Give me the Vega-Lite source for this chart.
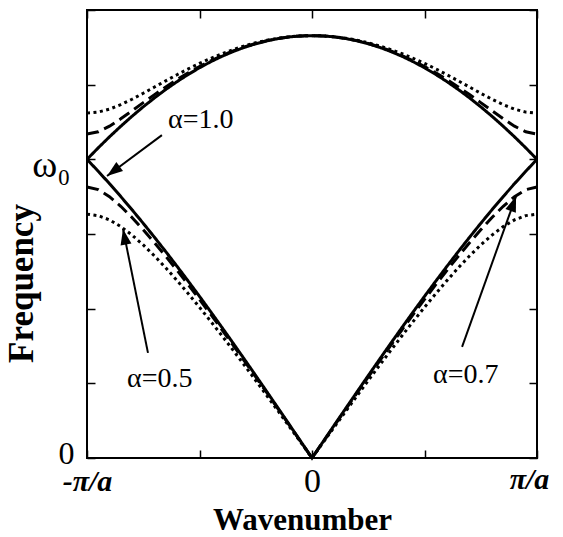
{
  "$schema": "https://vega.github.io/schema/vega-lite/v6.json",
  "width": 450,
  "height": 448,
  "autosize": "none",
  "padding": {"left": 87, "top": 10, "right": 26, "bottom": 79},
  "background": "white",
  "config": {
    "view": {"stroke": "black", "strokeWidth": 2},
    "axis": {"grid": false, "domain": false, "tickColor": "black", "tickWidth": 1.5, "labelColor": "black", "titleColor": "black"}
  },
  "datasets": {
    "bands": [
      {"k": -1.00, "a": "1.0", "lo": 1.0000, "up": 1.0000},
      {"k": -0.95, "a": "1.0", "lo": 0.9600, "up": 1.0385},
      {"k": -0.90, "a": "1.0", "lo": 0.9185, "up": 1.0754},
      {"k": -0.85, "a": "1.0", "lo": 0.8755, "up": 1.1106},
      {"k": -0.80, "a": "1.0", "lo": 0.8313, "up": 1.1441},
      {"k": -0.75, "a": "1.0", "lo": 0.7857, "up": 1.1759},
      {"k": -0.70, "a": "1.0", "lo": 0.7389, "up": 1.2058},
      {"k": -0.65, "a": "1.0", "lo": 0.6910, "up": 1.2339},
      {"k": -0.60, "a": "1.0", "lo": 0.6420, "up": 1.2601},
      {"k": -0.55, "a": "1.0", "lo": 0.5921, "up": 1.2843},
      {"k": -0.50, "a": "1.0", "lo": 0.5412, "up": 1.3066},
      {"k": -0.45, "a": "1.0", "lo": 0.4895, "up": 1.3268},
      {"k": -0.40, "a": "1.0", "lo": 0.4370, "up": 1.3450},
      {"k": -0.35, "a": "1.0", "lo": 0.3839, "up": 1.3611},
      {"k": -0.30, "a": "1.0", "lo": 0.3301, "up": 1.3751},
      {"k": -0.25, "a": "1.0", "lo": 0.2759, "up": 1.3870},
      {"k": -0.20, "a": "1.0", "lo": 0.2212, "up": 1.3968},
      {"k": -0.15, "a": "1.0", "lo": 0.1662, "up": 1.4044},
      {"k": -0.10, "a": "1.0", "lo": 0.1110, "up": 1.4099},
      {"k": -0.05, "a": "1.0", "lo": 0.0555, "up": 1.4131},
      {"k": 0.00, "a": "1.0", "lo": 0.0000, "up": 1.4142},
      {"k": 0.05, "a": "1.0", "lo": 0.0555, "up": 1.4131},
      {"k": 0.10, "a": "1.0", "lo": 0.1110, "up": 1.4099},
      {"k": 0.15, "a": "1.0", "lo": 0.1662, "up": 1.4044},
      {"k": 0.20, "a": "1.0", "lo": 0.2212, "up": 1.3968},
      {"k": 0.25, "a": "1.0", "lo": 0.2759, "up": 1.3870},
      {"k": 0.30, "a": "1.0", "lo": 0.3301, "up": 1.3751},
      {"k": 0.35, "a": "1.0", "lo": 0.3839, "up": 1.3611},
      {"k": 0.40, "a": "1.0", "lo": 0.4370, "up": 1.3450},
      {"k": 0.45, "a": "1.0", "lo": 0.4895, "up": 1.3268},
      {"k": 0.50, "a": "1.0", "lo": 0.5412, "up": 1.3066},
      {"k": 0.55, "a": "1.0", "lo": 0.5921, "up": 1.2843},
      {"k": 0.60, "a": "1.0", "lo": 0.6420, "up": 1.2601},
      {"k": 0.65, "a": "1.0", "lo": 0.6910, "up": 1.2339},
      {"k": 0.70, "a": "1.0", "lo": 0.7389, "up": 1.2058},
      {"k": 0.75, "a": "1.0", "lo": 0.7857, "up": 1.1759},
      {"k": 0.80, "a": "1.0", "lo": 0.8313, "up": 1.1441},
      {"k": 0.85, "a": "1.0", "lo": 0.8755, "up": 1.1106},
      {"k": 0.90, "a": "1.0", "lo": 0.9185, "up": 1.0754},
      {"k": 0.95, "a": "1.0", "lo": 0.9600, "up": 1.0385},
      {"k": 1.00, "a": "1.0", "lo": 1.0000, "up": 1.0000},

      {"k": -1.00, "a": "0.7", "lo": 0.9075, "up": 1.0847},
      {"k": -0.95, "a": "0.7", "lo": 0.8985, "up": 1.0921},
      {"k": -0.90, "a": "0.7", "lo": 0.8751, "up": 1.1109},
      {"k": -0.85, "a": "0.7", "lo": 0.8428, "up": 1.1357},
      {"k": -0.80, "a": "0.7", "lo": 0.8052, "up": 1.1626},
      {"k": -0.75, "a": "0.7", "lo": 0.7642, "up": 1.1899},
      {"k": -0.70, "a": "0.7", "lo": 0.7208, "up": 1.2167},
      {"k": -0.65, "a": "0.7", "lo": 0.6755, "up": 1.2425},
      {"k": -0.60, "a": "0.7", "lo": 0.6286, "up": 1.2668},
      {"k": -0.55, "a": "0.7", "lo": 0.5804, "up": 1.2896},
      {"k": -0.50, "a": "0.7", "lo": 0.5310, "up": 1.3107},
      {"k": -0.45, "a": "0.7", "lo": 0.4806, "up": 1.3300},
      {"k": -0.40, "a": "0.7", "lo": 0.4294, "up": 1.3475},
      {"k": -0.35, "a": "0.7", "lo": 0.3773, "up": 1.3629},
      {"k": -0.30, "a": "0.7", "lo": 0.3247, "up": 1.3764},
      {"k": -0.25, "a": "0.7", "lo": 0.2714, "up": 1.3879},
      {"k": -0.20, "a": "0.7", "lo": 0.2177, "up": 1.3974},
      {"k": -0.15, "a": "0.7", "lo": 0.1636, "up": 1.4047},
      {"k": -0.10, "a": "0.7", "lo": 0.1092, "up": 1.4100},
      {"k": -0.05, "a": "0.7", "lo": 0.0546, "up": 1.4132},
      {"k": 0.00, "a": "0.7", "lo": 0.0000, "up": 1.4142},
      {"k": 0.05, "a": "0.7", "lo": 0.0546, "up": 1.4132},
      {"k": 0.10, "a": "0.7", "lo": 0.1092, "up": 1.4100},
      {"k": 0.15, "a": "0.7", "lo": 0.1636, "up": 1.4047},
      {"k": 0.20, "a": "0.7", "lo": 0.2177, "up": 1.3974},
      {"k": 0.25, "a": "0.7", "lo": 0.2714, "up": 1.3879},
      {"k": 0.30, "a": "0.7", "lo": 0.3247, "up": 1.3764},
      {"k": 0.35, "a": "0.7", "lo": 0.3773, "up": 1.3629},
      {"k": 0.40, "a": "0.7", "lo": 0.4294, "up": 1.3475},
      {"k": 0.45, "a": "0.7", "lo": 0.4806, "up": 1.3300},
      {"k": 0.50, "a": "0.7", "lo": 0.5310, "up": 1.3107},
      {"k": 0.55, "a": "0.7", "lo": 0.5804, "up": 1.2896},
      {"k": 0.60, "a": "0.7", "lo": 0.6286, "up": 1.2668},
      {"k": 0.65, "a": "0.7", "lo": 0.6755, "up": 1.2425},
      {"k": 0.70, "a": "0.7", "lo": 0.7208, "up": 1.2167},
      {"k": 0.75, "a": "0.7", "lo": 0.7642, "up": 1.1899},
      {"k": 0.80, "a": "0.7", "lo": 0.8052, "up": 1.1626},
      {"k": 0.85, "a": "0.7", "lo": 0.8428, "up": 1.1357},
      {"k": 0.90, "a": "0.7", "lo": 0.8751, "up": 1.1109},
      {"k": 0.95, "a": "0.7", "lo": 0.8985, "up": 1.0921},
      {"k": 1.00, "a": "0.7", "lo": 0.9075, "up": 1.0847},

      {"k": -1.00, "a": "0.5", "lo": 0.8165, "up": 1.1547},
      {"k": -0.95, "a": "0.5", "lo": 0.8115, "up": 1.1582},
      {"k": -0.90, "a": "0.5", "lo": 0.7972, "up": 1.1681},
      {"k": -0.85, "a": "0.5", "lo": 0.7750, "up": 1.1830},
      {"k": -0.80, "a": "0.5", "lo": 0.7465, "up": 1.2011},
      {"k": -0.75, "a": "0.5", "lo": 0.7133, "up": 1.2212},
      {"k": -0.70, "a": "0.5", "lo": 0.6764, "up": 1.2420},
      {"k": -0.65, "a": "0.5", "lo": 0.6366, "up": 1.2629},
      {"k": -0.60, "a": "0.5", "lo": 0.5944, "up": 1.2832},
      {"k": -0.55, "a": "0.5", "lo": 0.5503, "up": 1.3028},
      {"k": -0.50, "a": "0.5", "lo": 0.5046, "up": 1.3211},
      {"k": -0.45, "a": "0.5", "lo": 0.4576, "up": 1.3381},
      {"k": -0.40, "a": "0.5", "lo": 0.4094, "up": 1.3537},
      {"k": -0.35, "a": "0.5", "lo": 0.3602, "up": 1.3676},
      {"k": -0.30, "a": "0.5", "lo": 0.3102, "up": 1.3798},
      {"k": -0.25, "a": "0.5", "lo": 0.2595, "up": 1.3902},
      {"k": -0.20, "a": "0.5", "lo": 0.2083, "up": 1.3988},
      {"k": -0.15, "a": "0.5", "lo": 0.1566, "up": 1.4055},
      {"k": -0.10, "a": "0.5", "lo": 0.1046, "up": 1.4103},
      {"k": -0.05, "a": "0.5", "lo": 0.0523, "up": 1.4132},
      {"k": 0.00, "a": "0.5", "lo": 0.0000, "up": 1.4142},
      {"k": 0.05, "a": "0.5", "lo": 0.0523, "up": 1.4132},
      {"k": 0.10, "a": "0.5", "lo": 0.1046, "up": 1.4103},
      {"k": 0.15, "a": "0.5", "lo": 0.1566, "up": 1.4055},
      {"k": 0.20, "a": "0.5", "lo": 0.2083, "up": 1.3988},
      {"k": 0.25, "a": "0.5", "lo": 0.2595, "up": 1.3902},
      {"k": 0.30, "a": "0.5", "lo": 0.3102, "up": 1.3798},
      {"k": 0.35, "a": "0.5", "lo": 0.3602, "up": 1.3676},
      {"k": 0.40, "a": "0.5", "lo": 0.4094, "up": 1.3537},
      {"k": 0.45, "a": "0.5", "lo": 0.4576, "up": 1.3381},
      {"k": 0.50, "a": "0.5", "lo": 0.5046, "up": 1.3211},
      {"k": 0.55, "a": "0.5", "lo": 0.5503, "up": 1.3028},
      {"k": 0.60, "a": "0.5", "lo": 0.5944, "up": 1.2832},
      {"k": 0.65, "a": "0.5", "lo": 0.6366, "up": 1.2629},
      {"k": 0.70, "a": "0.5", "lo": 0.6764, "up": 1.2420},
      {"k": 0.75, "a": "0.5", "lo": 0.7133, "up": 1.2212},
      {"k": 0.80, "a": "0.5", "lo": 0.7465, "up": 1.2011},
      {"k": 0.85, "a": "0.5", "lo": 0.7750, "up": 1.1830},
      {"k": 0.90, "a": "0.5", "lo": 0.7972, "up": 1.1681},
      {"k": 0.95, "a": "0.5", "lo": 0.8115, "up": 1.1582},
      {"k": 1.00, "a": "0.5", "lo": 0.8165, "up": 1.1547}
    ],
    "arrows": [
      {"label": "α=1.0", "tx": -0.64, "ty": 1.105, "x0": -0.667, "y0": 1.081, "x1": -0.911, "y1": 0.944, "angle": 233},
      {"label": "α=0.5", "tx": -0.822, "ty": 0.238, "x0": -0.729, "y0": 0.352, "x1": -0.84, "y1": 0.767, "angle": 349},
      {"label": "α=0.7", "tx": 0.538, "ty": 0.251, "x0": 0.667, "y0": 0.372, "x1": 0.907, "y1": 0.877, "angle": 20}
    ]
  },
  "layer": [
    {
      "data": {"name": "bands"},
      "transform": [{"fold": ["lo", "up"], "as": ["branch", "w"]}],
      "mark": {"type": "line", "color": "black", "strokeWidth": 3, "strokeCap": "butt"},
      "encoding": {
        "x": {
          "field": "k", "type": "quantitative",
          "scale": {"domain": [-1, 1], "nice": false, "zero": false},
          "axis": {
            "orient": "bottom", "values": [-1, -0.5, 0, 0.5, 1], "tickSize": -8, "labelFlush": false,
            "labelExpr": "datum.value == -1 ? '-π/a' : datum.value == 0 ? '0' : datum.value == 1 ? 'π/a' : ''",
            "labelFont": "Liberation Serif",
            "labelFontSize": {"condition": {"test": "datum.value == 0", "value": 34}, "value": 30},
            "labelFontStyle": {"condition": {"test": "datum.value == 0", "value": "normal"}, "value": "italic"},
            "labelFontWeight": {"condition": {"test": "datum.value == 0", "value": "normal"}, "value": "bold"},
            "labelOffset": {"condition": {"test": "datum.value == 1", "value": -8}, "value": 0},
            "labelPadding": {"condition": {"test": "datum.value == -1", "value": 16}, "value": 14},
            "title": "Wavenumber", "titleFont": "Liberation Serif", "titleFontSize": 31, "titleFontWeight": "bold",
            "titleX": 215, "titleY": 71, "titleAlign": "center", "titleBaseline": "alphabetic"
          }
        },
        "y": {
          "field": "w", "type": "quantitative",
          "scale": {"domain": [0, 1.5], "nice": false},
          "axis": {
            "orient": "left", "values": [0, 0.25, 0.5, 0.75, 1, 1.25, 1.5], "tickSize": -8,
            "labelExpr": "datum.value == 0 ? '0' : datum.value == 1 ? 'ω₀' : ''",
            "labelFont": "Liberation Serif",
            "labelFontSize": {"condition": {"test": "datum.value == 1", "value": 38}, "value": 32},
            "labelPadding": {"condition": {"test": "datum.value == 1", "value": 25}, "value": 21},
            "labelOffset": {"condition": {"test": "datum.value == 1", "value": 6}, "value": -5},
            "title": "Frequency", "titleFont": "Liberation Serif", "titleFontSize": 35, "titleFontWeight": "bold",
            "titleX": -48, "titleY": 273, "titleAngle": 270, "titleAlign": "center", "titleBaseline": "bottom"
          }
        },
        "detail": [{"field": "a"}, {"field": "branch"}],
        "strokeDash": {
          "field": "a", "type": "nominal", "legend": null,
          "scale": {"domain": ["1.0", "0.7", "0.5"], "range": [[1, 0], [12, 6], [3, 3.5]]}
        }
      }
    },
    {
      "data": {"name": "arrows"},
      "mark": {"type": "rule", "color": "black", "strokeWidth": 2},
      "encoding": {
        "x": {"field": "x0", "type": "quantitative", "axis": {"orient": "top", "values": [-1, -0.5, 0, 0.5, 1], "tickSize": -8, "labels": false, "title": null}},
        "y": {"field": "y0", "type": "quantitative", "axis": {"orient": "right", "values": [0, 0.25, 0.5, 0.75, 1, 1.25, 1.5], "tickSize": -8, "labels": false, "title": null}},
        "x2": {"field": "x1"},
        "y2": {"field": "y1"}
      }
    },
    {
      "data": {"name": "arrows"},
      "mark": {"type": "point", "shape": "M0,0 L-0.35,1 L0.35,1 Z", "filled": true, "color": "black", "size": 1000, "opacity": 1},
      "encoding": {
        "x": {"field": "x1", "type": "quantitative", "axis": null},
        "y": {"field": "y1", "type": "quantitative", "axis": null},
        "angle": {"field": "angle", "type": "quantitative", "scale": null}
      }
    },
    {
      "data": {"name": "arrows"},
      "mark": {"type": "text", "font": "Liberation Serif", "fontSize": 28, "align": "left", "baseline": "alphabetic", "color": "black"},
      "encoding": {
        "x": {"field": "tx", "type": "quantitative", "axis": null},
        "y": {"field": "ty", "type": "quantitative", "axis": null},
        "text": {"field": "label"}
      }
    }
  ],
  "resolve": {"axis": {"x": "independent", "y": "independent"}}
}
